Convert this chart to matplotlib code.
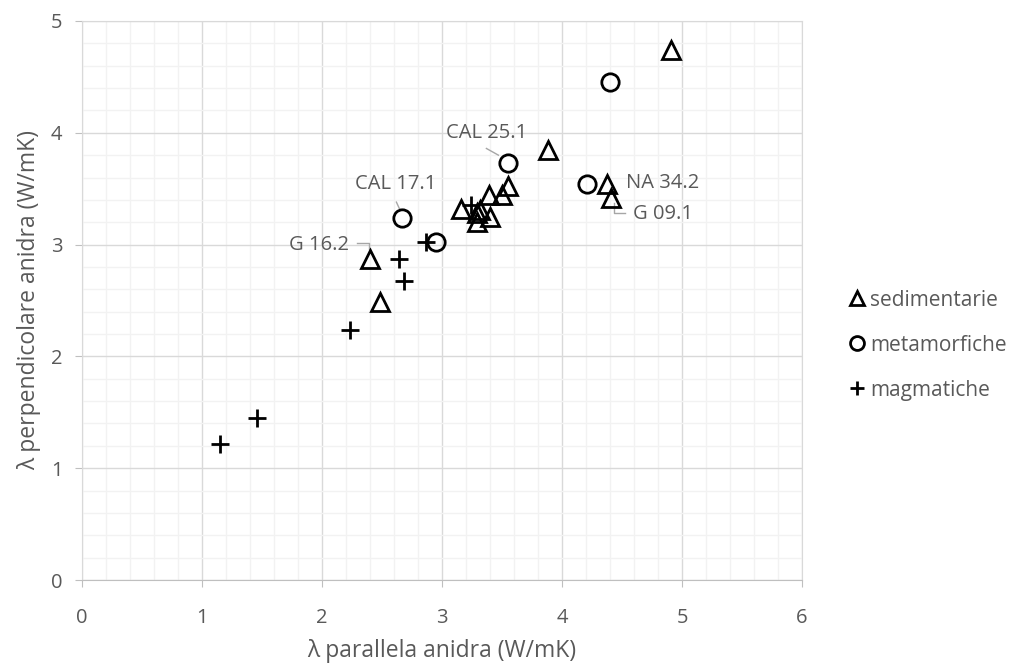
import matplotlib.pyplot as plt
from matplotlib.ticker import MultipleLocator

plt.rcParams['font.family'] = ['Open Sans', 'DejaVu Sans']

# conducibilità termica anidra: parallela (x) / perpendicolare (y), W/mK
sed_par = [4.91, 3.88, 4.375, 4.41, 2.40, 2.48, 3.16, 3.32, 3.29, 3.40, 3.39, 3.50, 3.55, 3.29]
sed_perp = [4.74, 3.85, 3.54, 3.42, 2.87, 2.49, 3.32, 3.31, 3.20, 3.25, 3.44, 3.44, 3.52, 3.28]

met_par = [4.40, 3.55, 4.21, 2.67, 2.95]
met_perp = [4.45, 3.73, 3.54, 3.24, 3.02]

mag_par = [1.15, 1.46, 2.23, 2.64, 2.68, 2.87, 3.24]
mag_perp = [1.22, 1.45, 2.24, 2.87, 2.67, 3.02, 3.35]

grey = '#595959'

fig = plt.figure(figsize=(10.13, 6.64), dpi=100)
ax = fig.add_axes([82 / 1013, 84 / 664, 720 / 1013, 559 / 664])

ax.plot(sed_par, sed_perp, linestyle='none', marker='^', markersize=13,
        markerfacecolor='none', markeredgecolor='black', markeredgewidth=2,
        label='sedimentarie', zorder=3)
ax.plot(met_par, met_perp, linestyle='none', marker='o', markersize=12.5,
        markerfacecolor='none', markeredgecolor='black', markeredgewidth=2,
        label='metamorfiche', zorder=3)
ax.plot(mag_par, mag_perp, linestyle='none', marker='+', markersize=12.5,
        markeredgecolor='black', markeredgewidth=2,
        label='magmatiche', zorder=3)

ax.set_xlim(0, 6)
ax.set_ylim(0, 5)
ax.xaxis.set_major_locator(MultipleLocator(1))
ax.yaxis.set_major_locator(MultipleLocator(1))
ax.xaxis.set_minor_locator(MultipleLocator(0.2))
ax.yaxis.set_minor_locator(MultipleLocator(0.2))
ax.grid(which='major', color='#d9d9d9', linewidth=1, zorder=0)
ax.grid(which='minor', color='#f2f2f2', linewidth=1, zorder=0)
ax.set_axisbelow(True)

for side in ['top', 'right', 'left']:
    ax.spines[side].set_color('#d9d9d9')
ax.spines['bottom'].set_color('#bfbfbf')
ax.tick_params(which='major', length=5, color='#bfbfbf', labelsize=14.5,
               labelcolor=grey)
ax.tick_params(axis='x', pad=15)
ax.tick_params(axis='y', pad=9)
ax.tick_params(which='minor', length=0)

ax.set_xlabel('λ parallela anidra (W/mK)', fontsize=16.5, color=grey, labelpad=8)
ax.set_ylabel('λ perpendicolare anidra (W/mK)', fontsize=16.5, color=grey, labelpad=7)

# etichette dei campioni con linea di richiamo
lab = dict(fontsize=14.5, color=grey)
lead = dict(color='#a6a6a6', linewidth=1)
ax.text(3.37, 4.0, 'CAL 25.1', ha='center', va='center', **lab)
ax.plot([3.37, 3.47], [3.86, 3.80], **lead)
ax.text(2.61, 3.54, 'CAL 17.1', ha='center', va='center', **lab)
ax.plot([2.62, 2.65], [3.38, 3.31], **lead)
ax.text(2.225, 3.0, 'G 16.2', ha='right', va='center', **lab)
ax.plot([2.29, 2.39, 2.39], [3.015, 3.015, 2.965], **lead)
ax.text(4.535, 3.55, 'NA 34.2', ha='left', va='center', **lab)
ax.text(4.595, 3.27, 'G 09.1', ha='left', va='center', **lab)
ax.plot([4.43, 4.43, 4.525], [3.37, 3.285, 3.285], **lead)

leg = ax.legend(loc='center left', bbox_to_anchor=(1.04, 0.42), frameon=False,
                fontsize=15, labelcolor=grey, handlelength=0.7, handletextpad=0.3,
                labelspacing=1.15, markerscale=0.8)

fig.savefig('out.png', dpi=100)
